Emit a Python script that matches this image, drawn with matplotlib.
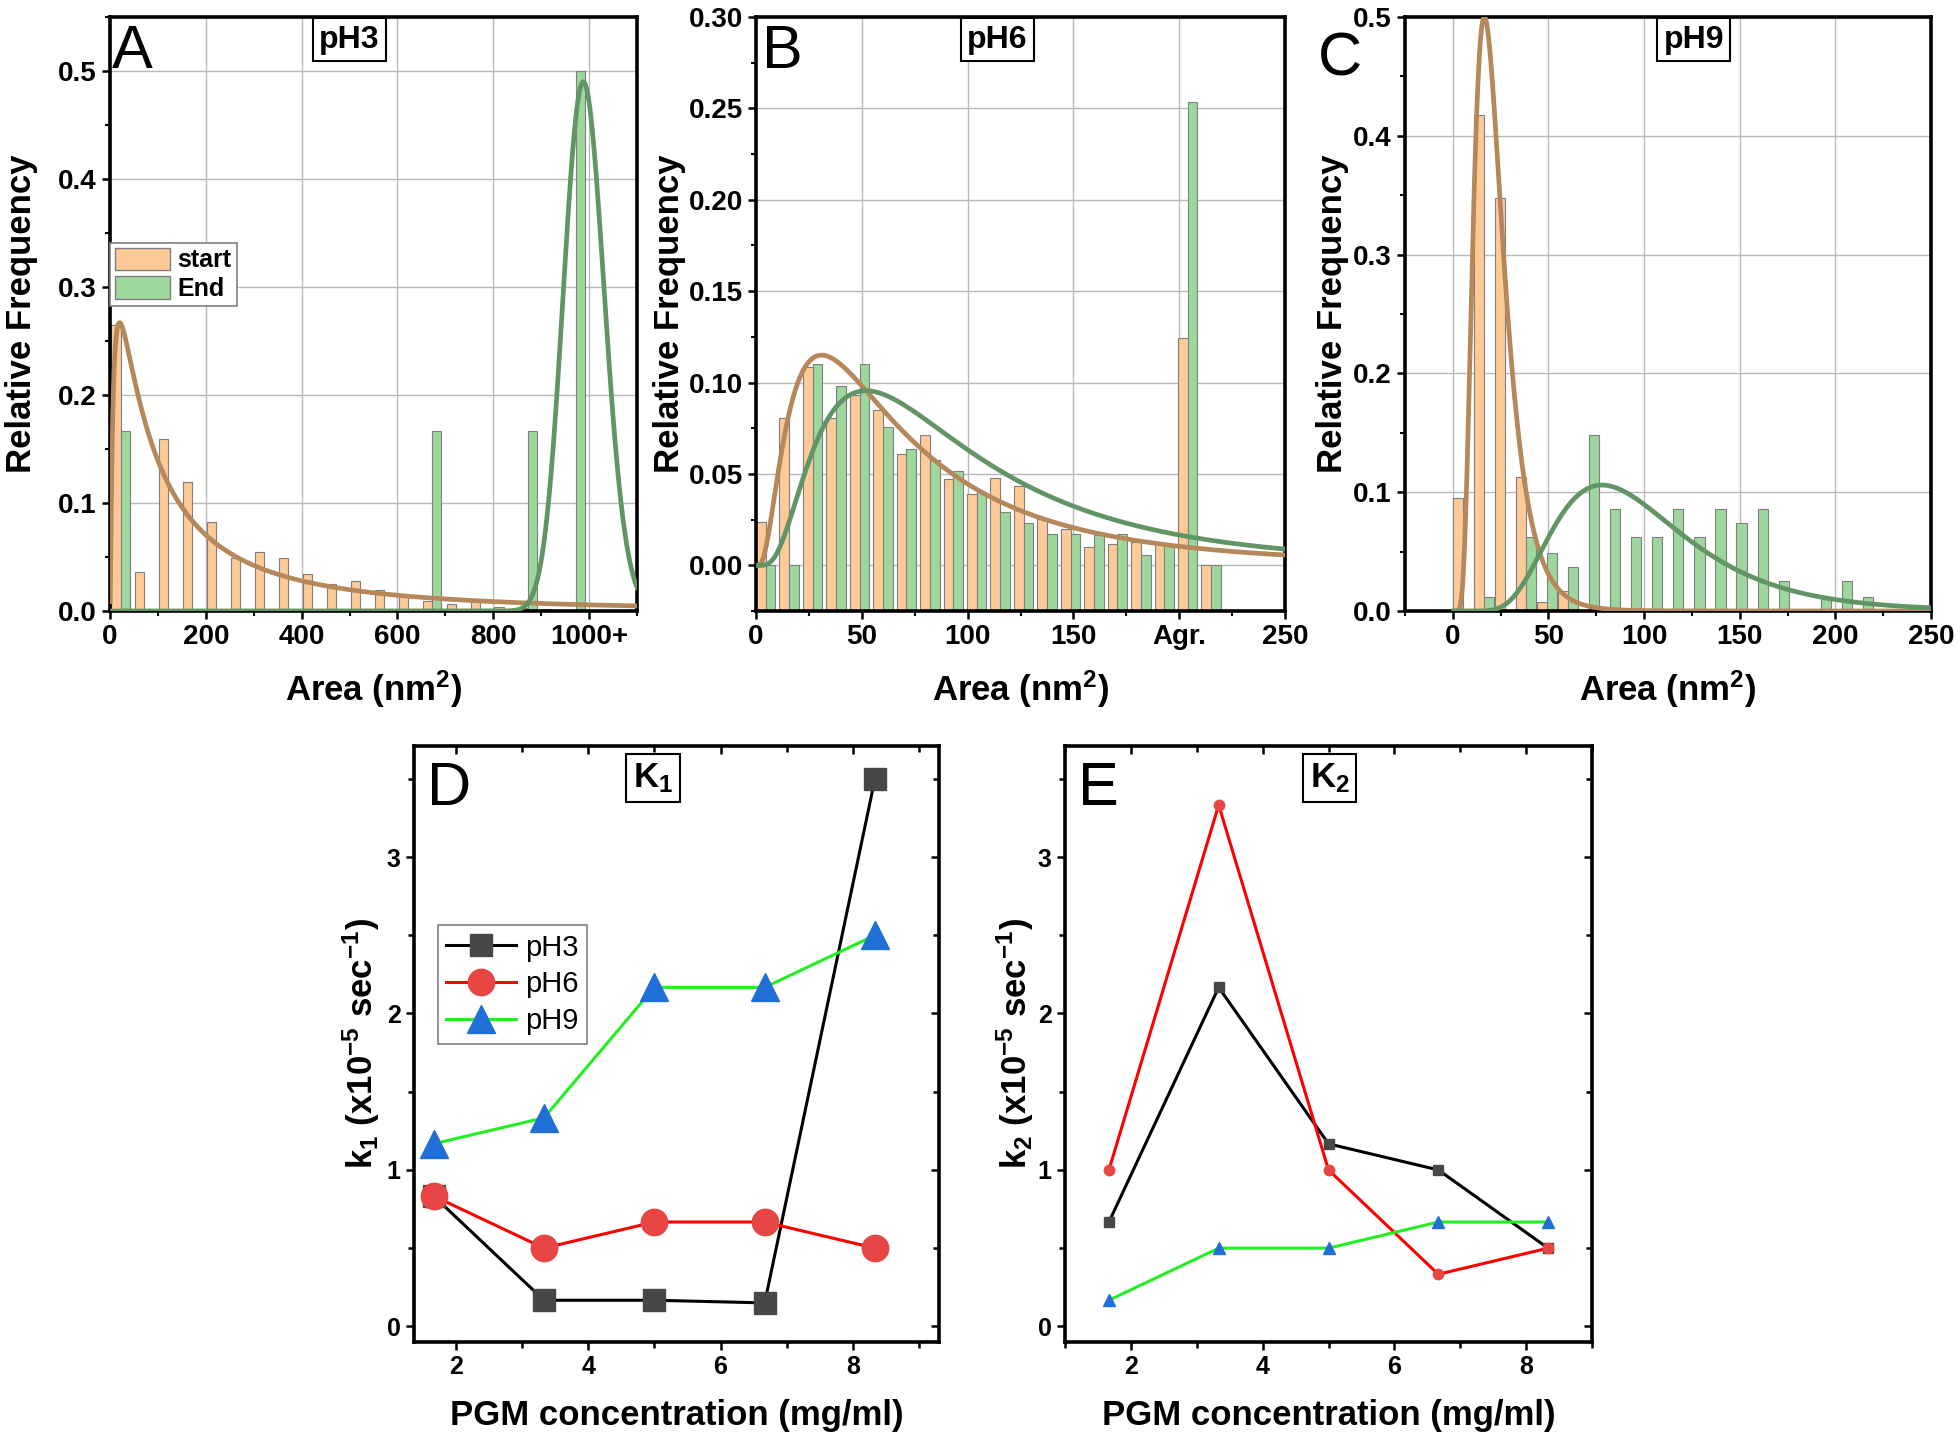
import numpy as np
import matplotlib
matplotlib.use("Agg")
import matplotlib.pyplot as plt
from matplotlib.patches import Patch
from matplotlib.ticker import MultipleLocator

plt.rcParams['font.family'] = ['Liberation Sans', 'DejaVu Sans']
plt.rcParams['font.weight'] = 'bold'
plt.rcParams['axes.labelweight'] = 'bold'
plt.rcParams['mathtext.default'] = 'regular'

# ---------- size distributions (relative frequency per bin) ----------
# pH3 : bins of 50 nm^2, last one is "1000+"
a_bins = np.arange(20) * 50
a_start = [0.265, 0.036, 0.159, 0.119, 0.082, 0.049, 0.055, 0.049, 0.034, 0.025,
           0.028, 0.019, 0.0135, 0.009, 0.0063, 0.0104, 0.0038, 0.003, 0.0016, 0.0006]
a_end = [0.1667, 0, 0, 0, 0, 0, 0, 0, 0, 0,
         0, 0, 0, 0.1667, 0, 0, 0, 0.1667, 0, 0.5]

# pH6 : last-but-one bin is aggregates ("Agr.")
b_bins = np.arange(20) * 11.08
b_start = [0.0237, 0.0808, 0.1086, 0.0808, 0.093, 0.0849, 0.0611, 0.0712, 0.0474, 0.0392,
           0.0476, 0.0434, 0.0256, 0.0198, 0.010, 0.0119, 0.0128, 0.0119, 0.1246, 0.0]
b_end = [0.0, 0.0, 0.1099, 0.098, 0.1099, 0.0754, 0.0637, 0.0575, 0.0516, 0.0403,
         0.0293, 0.023, 0.0174, 0.0174, 0.0168, 0.017, 0.0055, 0.011, 0.2536, 0.0]

# pH9
c_bins = np.arange(20) * 11.0
c_start = [0.095, 0.4175, 0.348, 0.113, 0.0076, 0.017, 0, 0, 0, 0,
           0, 0, 0, 0, 0, 0, 0, 0, 0, 0]
c_end = [0, 0.012, 0, 0.062, 0.049, 0.037, 0.148, 0.086, 0.062, 0.062,
         0.086, 0.062, 0.086, 0.074, 0.086, 0.025, 0, 0.012, 0.025, 0.012]

# log-normal fits: (mode, peak height, log width)
a_start_fit = (20, 0.267, 1.41)
a_end_fit = (988, 0.49, 0.043)
b_start_fit = (31, 0.115, 0.85)
b_end_fit = (52, 0.0955, 0.72)
c_start_fit = (16.5, 0.5, 0.47)
c_end_fit = (78, 0.106, 0.43)

# ---------- rate constants ----------
conc = [1.667, 3.333, 5.0, 6.667, 8.333]
k1_ph3 = [0.833, 0.167, 0.167, 0.15, 3.5]
k1_ph6 = [0.833, 0.5, 0.667, 0.667, 0.5]
k1_ph9 = [1.167, 1.333, 2.167, 2.167, 2.5]
k2_ph3 = [0.667, 2.167, 1.167, 1.0, 0.5]
k2_ph6 = [1.0, 3.333, 1.0, 0.333, 0.5]
k2_ph9 = [0.167, 0.5, 0.5, 0.667, 0.667]

ORANGE = '#FDCA98'
GREEN = '#9DD79D'
ORANGE_FIT = '#B5875A'
GREEN_FIT = '#629566'

W, H = 1960, 1442
fig = plt.figure(figsize=(W / 100, H / 100), dpi=100)


def add_ax(x0, y0, x1, y1):
    return fig.add_axes([x0 / W, 1 - y1 / H, (x1 - x0) / W, (y1 - y0) / H])


def lognorm_fit(x, mode, peak, width):
    return peak * np.exp(-np.log(x / mode) ** 2 / (2 * width ** 2))


def style_spines(ax):
    for s in ax.spines.values():
        s.set_linewidth(2.6)


def hist_panel(ax, bins, start, end, bw, off, fits, xmax, ylim, letter, letter_pos, title, title_x):
    ymin = ylim[0]
    bins = np.asarray(bins)
    ax.bar(bins + off, np.asarray(start) - ymin, width=bw, bottom=ymin, align='edge',
           color=ORANGE, edgecolor='#7f7f7f', linewidth=0.8, zorder=2)
    ax.bar(bins + off + bw, np.asarray(end) - ymin, width=bw, bottom=ymin, align='edge',
           color=GREEN, edgecolor='#7f7f7f', linewidth=0.8, zorder=2)
    xs = np.linspace(0.5, xmax, 800)
    ax.plot(xs, lognorm_fit(xs, *fits[0]), color=ORANGE_FIT, lw=3.4, zorder=3)
    ax.plot(xs, lognorm_fit(xs, *fits[1]), color=GREEN_FIT, lw=3.4, zorder=3)
    ax.set_ylim(*ylim)
    ax.grid(True, which='major', color='#b9b9b9', lw=1.0, zorder=0)
    ax.set_axisbelow(True)
    ax.tick_params(which='major', direction='out', length=6, width=1.8, labelsize=20)
    ax.tick_params(which='minor', direction='out', length=3.5, width=1.5)
    style_spines(ax)
    ax.set_ylabel('Relative Frequency', fontsize=25, va='center')
    ax.set_xlabel('Area (nm$^{2}$)', fontsize=25, va='center')
    ax.xaxis.set_label_coords(0.5, -0.132)
    ax.text(letter_pos[0], letter_pos[1], letter, transform=ax.transAxes, fontsize=44,
            fontweight='normal', ha='left', va='top')
    ax.text(title_x, 0.962, title, transform=ax.transAxes, fontsize=23, ha='center', va='center',
            bbox=dict(boxstyle='square,pad=0.2', fc='white', ec='black', lw=1.5), zorder=5)


# ---- A : pH3 ----
axA = add_ax(110, 17, 637, 611)
hist_panel(axA, a_bins, a_start, a_end, 19.5, 2.5, (a_start_fit, a_end_fit), 1100,
           (0, 0.55), 'A', (0.004, 0.988), 'pH3', 0.454)
axA.set_xlim(0, 1100)
axA.set_xticks([0, 200, 400, 600, 800, 1000])
axA.set_xticklabels(['0', '200', '400', '600', '800', '1000+'])
axA.xaxis.set_minor_locator(MultipleLocator(100))
axA.set_yticks([0, 0.1, 0.2, 0.3, 0.4, 0.5])
axA.set_yticklabels(['0.0', '0.1', '0.2', '0.3', '0.4', '0.5'])
axA.yaxis.set_minor_locator(MultipleLocator(0.05))
axA.yaxis.set_label_coords(-0.167, 0.5)
leg = axA.legend(handles=[Patch(fc=ORANGE, ec='#7f7f7f', label='start'),
                          Patch(fc=GREEN, ec='#7f7f7f', label='End')],
                 loc='upper left', bbox_to_anchor=(0.0, 0.62), borderaxespad=0,
                 prop={'size': 18, 'weight': 'bold'}, handlelength=2.2, handleheight=1.0,
                 handletextpad=0.3, borderpad=0.2, labelspacing=0.15, fancybox=False,
                 edgecolor='#7f7f7f', framealpha=1)
leg.get_frame().set_linewidth(1.2)

# ---- B : pH6 ----
axB = add_ax(756, 17, 1285, 611)
hist_panel(axB, b_bins, b_start, b_end, 4.6, 0.0, (b_start_fit, b_end_fit), 250,
           (-0.025, 0.30), 'B', (0.012, 0.988), 'pH6', 0.456)
axB.set_xlim(0, 250)
axB.set_xticks([0, 50, 100, 150, 200, 250])
axB.set_xticklabels(['0', '50', '100', '150', 'Agr.', '250'])
axB.xaxis.set_minor_locator(MultipleLocator(25))
axB.set_yticks([0, 0.05, 0.10, 0.15, 0.20, 0.25, 0.30])
axB.set_yticklabels(['0.00', '0.05', '0.10', '0.15', '0.20', '0.25', '0.30'])
axB.yaxis.set_minor_locator(MultipleLocator(0.025))
axB.yaxis.set_label_coords(-0.164, 0.5)

# ---- C : pH9 ----
axC = add_ax(1405, 17, 1931, 611)
hist_panel(axC, c_bins, c_start, c_end, 5.3, 0.0, (c_start_fit, c_end_fit), 250,
           (0, 0.5), 'C', (-0.166, 0.976), 'pH9', 0.549)
axC.set_xlim(-25, 250)
axC.set_xticks([0, 50, 100, 150, 200, 250])
axC.xaxis.set_minor_locator(MultipleLocator(25))
axC.set_yticks([0, 0.1, 0.2, 0.3, 0.4, 0.5])
axC.set_yticklabels(['0.0', '0.1', '0.2', '0.3', '0.4', '0.5'])
axC.yaxis.set_minor_locator(MultipleLocator(0.05))
axC.yaxis.set_label_coords(-0.137, 0.5)


# ---- D / E : rate constants ----
def rate_panel(ax, ph3, ph6, ph9, big, xlim, letter, title, title_x, ylabel):
    ms = (16, 19, 20) if big else (6.5, 7.5, 8.5)
    ax.plot(conc, ph3, '-', color='black', lw=2.2, marker='s', ms=ms[0],
            mfc='#474747', mec='#474747', label='pH3')
    ax.plot(conc, ph6, '-', color='#ff0000', lw=2.2, marker='o', ms=ms[1],
            mfc='#e84545', mec='#e84545', label='pH6')
    ax.plot(conc, ph9, '-', color='#22ee22', lw=2.2, marker='^', ms=ms[2],
            mfc='#1f6fd6', mec='#1f6fd6', label='pH9')
    ax.set_xlim(*xlim)
    ax.set_ylim(-0.1, 3.71)
    ax.set_xticks([2, 4, 6, 8])
    ax.set_yticks([0, 1, 2, 3])
    ax.xaxis.set_minor_locator(MultipleLocator(1))
    ax.yaxis.set_minor_locator(MultipleLocator(0.5))
    ax.tick_params(which='both', direction='out', labelsize=18, width=1.8)
    ax.tick_params(which='major', length=6)
    ax.tick_params(which='minor', length=4)
    ax.tick_params(which='both', top=True, right=True)
    style_spines(ax)
    # mirrored ticks on the top/right point inward
    for t in ax.xaxis.get_major_ticks() + ax.xaxis.get_minor_ticks():
        t.tick2line.set_marker(matplotlib.lines.TICKDOWN)
    for t in ax.yaxis.get_major_ticks() + ax.yaxis.get_minor_ticks():
        t.tick2line.set_marker(matplotlib.lines.TICKLEFT)
    ax.set_xlabel('PGM concentration (mg/ml)', fontsize=25, va='center')
    ax.xaxis.set_label_coords(0.5, -0.124)
    ax.set_ylabel(ylabel, fontsize=25, va='center')
    ax.text(0.025, 0.975, letter, transform=ax.transAxes, fontsize=44,
            fontweight='normal', ha='left', va='top')
    ax.text(title_x, 0.946, title, transform=ax.transAxes, fontsize=25, ha='center', va='center',
            bbox=dict(boxstyle='square,pad=0.2', fc='white', ec='black', lw=1.5), zorder=5)


axD = add_ax(414, 746, 939, 1342)
rate_panel(axD, k1_ph3, k1_ph6, k1_ph9, True, (1.37, 9.3), 'D', 'K$_1$', 0.456,
           'k$_1$ (x10$^{-5}$ sec$^{-1}$)')
axD.yaxis.set_label_coords(-0.10, 0.5)
legD = axD.legend(loc='upper left', bbox_to_anchor=(0.045, 0.70), borderaxespad=0,
                  prop={'size': 21, 'weight': 'normal'}, handlelength=2.4,
                  handletextpad=0.3, borderpad=0.3, labelspacing=0.3, fancybox=False,
                  edgecolor='#7f7f7f', framealpha=1)
legD.get_frame().set_linewidth(1.2)

axE = add_ax(1065, 746, 1592, 1342)
rate_panel(axE, k2_ph3, k2_ph6, k2_ph9, False, (1.0, 9.0), 'E', 'K$_2$', 0.502,
           'k$_2$ (x10$^{-5}$ sec$^{-1}$)')
axE.yaxis.set_label_coords(-0.095, 0.5)

fig.savefig('out.png', dpi=100)
